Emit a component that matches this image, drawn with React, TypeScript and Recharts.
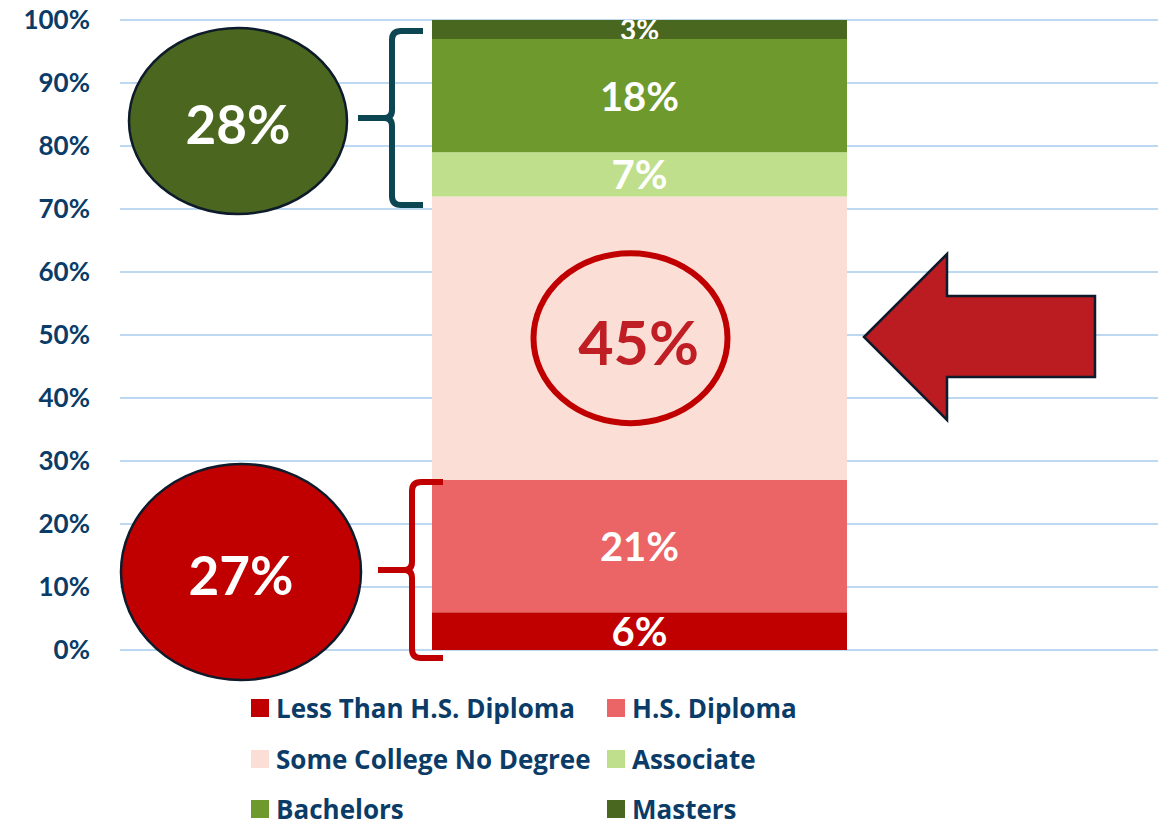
import React from "react";
import {
  BarChart,
  Bar,
  XAxis,
  YAxis,
  CartesianGrid,
  Legend,
  LabelList,
} from "recharts";

const CATEGORIES = ["Education"];
const SERIES_KEYS = ["less", "hs", "some", "assoc", "bach", "masters"];
const SERIES_NAMES = [
  "Less Than H.S. Diploma",
  "H.S. Diploma",
  "Some College No Degree",
  "Associate",
  "Bachelors",
  "Masters",
];
const VALUES = [6, 21, 45, 7, 18, 3];
const Y_TICKS = [0, 10, 20, 30, 40, 50, 60, 70, 80, 90, 100];
const GROUP_LABELS = ["28%", "27%"];

const COLORS = ["#C00000", "#EB6566", "#FBDED5", "#C0DF8D", "#6E9A2D", "#4A671F"];
const TEXT_BLUE = "#0B3C68";
const FONT = "Lato, 'Open Sans', sans-serif";
const LEGEND_FONT = "'Open Sans', Lato, sans-serif";

const chartData = CATEGORIES.map((name) => {
  const row: Record<string, any> = { name };
  SERIES_KEYS.forEach((k, i) => (row[k] = VALUES[i]));
  return row;
});

function box(props: any) {
  const vb = props.viewBox || {};
  return {
    x: Number(props.x ?? vb.x),
    y: Number(props.y ?? vb.y),
    w: Number(props.width ?? vb.width),
    h: Number(props.height ?? vb.height),
  };
}

const makeLabel = (key: string, fontSize = 40) => (props: any) => {
  const { x, y, w, h } = box(props);
  const id = `clip-${key}`;
  return (
    <g>
      <defs>
        <clipPath id={id}>
          <rect x={x} y={y} width={w} height={h} />
        </clipPath>
      </defs>
      <text
        x={x + w / 2}
        y={y + h / 2}
        clipPath={`url(#${id})`}
        textAnchor="middle"
        dominantBaseline="central"
        fill="#FFFFFF"
        fontFamily={FONT}
        fontWeight={700}
        fontSize={fontSize}
      >
        {`${props.value}%`}
      </text>
    </g>
  );
};

// the 45% segment gets the circled red label
const circledLabel = (props: any) => {
  const { x, y, w, h } = box(props);
  const cx = x + w / 2;
  const cy = y + h / 2;
  return (
    <g>
      <ellipse cx={cx - 9} cy={cy} rx={97} ry={85} fill="none" stroke="#C00000" strokeWidth={6} />
      <text
        x={cx - 1}
        y={cy + 3}
        textAnchor="middle"
        dominantBaseline="central"
        fill="#BE1E24"
        fontFamily={FONT}
        fontWeight={700}
        fontSize={61}
      >
        {`${props.value}%`}
      </text>
    </g>
  );
};

const LegendGrid = () => (
  <div style={{ position: "relative", width: 1166, height: 178, fontFamily: LEGEND_FONT }}>
    {SERIES_NAMES.map((name, i) => {
      const col = i % 2;
      const row = Math.floor(i / 2);
      return (
        <div
          key={name}
          style={{
            position: "absolute",
            left: col === 0 ? 251 : 607,
            top: 45 + row * 50.5,
            height: 26,
            display: "flex",
            alignItems: "center",
            whiteSpace: "nowrap",
          }}
        >
          <span style={{ width: 18, height: 18, background: COLORS[i], marginRight: 7 }} />
          <span style={{ color: TEXT_BLUE, fontWeight: 700, fontSize: 26, lineHeight: "26px" }}>{name}</span>
        </div>
      );
    })}
  </div>
);

const Annotations = () => (
  <svg
    width={1166}
    height={828}
    style={{ position: "absolute", left: 0, top: 0, pointerEvents: "none" }}
  >
    <path
      d="M 423 31 H 401 Q 392 31 392 40 V 110 Q 392 118 384 118 H 358 M 384 118 Q 392 118 392 126 V 196 Q 392 205 401 205 H 423"
      fill="none"
      stroke="#0C4652"
      strokeWidth={6}
    />
    <ellipse cx={238} cy={121} rx={109} ry={93} fill="#4A661F" stroke="#0D1B2A" strokeWidth={2.5} />
    <text x={238} y={123} textAnchor="middle" dominantBaseline="central" fill="#FFFFFF" fontFamily={FONT} fontWeight={700} fontSize={53}>
      {GROUP_LABELS[0]}
    </text>
    <path
      d="M 443 482 H 421 Q 412 482 412 491 V 562 Q 412 570 404 570 H 378 M 404 570 Q 412 570 412 578 V 649 Q 412 658 421 658 H 443"
      fill="none"
      stroke="#C00000"
      strokeWidth={6}
    />
    <ellipse cx={241} cy={572} rx={120} ry={108} fill="#C00000" stroke="#0D1B2A" strokeWidth={2.5} />
    <text x={241} y={574} textAnchor="middle" dominantBaseline="central" fill="#FFFFFF" fontFamily={FONT} fontWeight={700} fontSize={53}>
      {GROUP_LABELS[1]}
    </text>
    <polygon
      points="864,337 947,254 947,296 1095,296 1095,377 947,377 947,420"
      fill="#BA1C21"
      stroke="#0F1A2B"
      strokeWidth={2.5}
    />
  </svg>
);

export default function App() {
  return (
    <div style={{ position: "absolute", left: 0, top: 0, width: 1166, height: 828, background: "#fff" }}>
      <BarChart
        width={1166}
        height={828}
        data={chartData}
        margin={{ top: 20, right: 8, bottom: 0, left: 0 }}
      >
        <CartesianGrid vertical={false} stroke="#BDD9F2" strokeWidth={2} />
        <XAxis dataKey="name" hide />
        <YAxis
          width={120}
          domain={[0, 100]}
          ticks={Y_TICKS}
          interval={0}
          axisLine={false}
          tickLine={false}
          tickMargin={24}
          tickFormatter={(v: number) => `${v}%`}
          tick={{ fill: TEXT_BLUE, fontFamily: FONT, fontWeight: 700, fontSize: 26 }}
        />
        <Legend
          verticalAlign="bottom"
          align="left"
          height={178}
          content={() => <LegendGrid />}
        />
        {SERIES_KEYS.map((key, i) => (
          <Bar
            key={key}
            dataKey={key}
            name={SERIES_NAMES[i]}
            stackId="a"
            fill={COLORS[i]}
            barSize={415}
            isAnimationActive={false}
          >
            <LabelList
              dataKey={key}
              content={
                key === "some"
                  ? circledLabel
                  : makeLabel(key, key === "masters" ? 28 : 40)
              }
            />
          </Bar>
        ))}
      </BarChart>
      <Annotations />
    </div>
  );
}
